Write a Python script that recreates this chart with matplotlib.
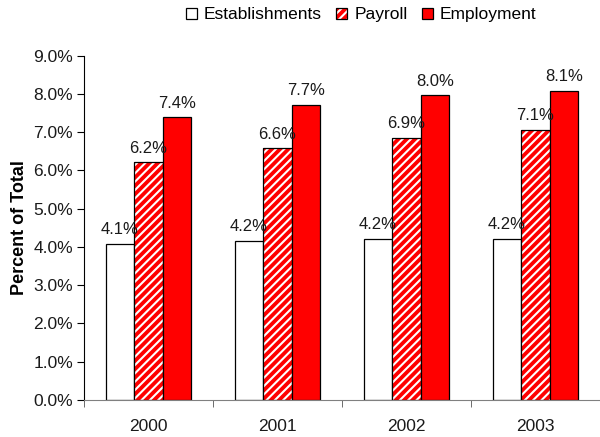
import matplotlib
matplotlib.use("Agg")
import matplotlib.pyplot as plt
from matplotlib.patches import Patch
import numpy as np

years = ["2000", "2001", "2002", "2003"]
establishments = [4.08, 4.16, 4.21, 4.22]
payroll = [6.22, 6.58, 6.86, 7.06]
employment = [7.39, 7.72, 7.96, 8.08]
yticks = [0, 1, 2, 3, 4, 5, 6, 7, 8, 9]

plt.rcParams['font.family'] = ['Liberation Sans', 'DejaVu Sans']
plt.rcParams['hatch.linewidth'] = 1.5

RED = '#ff0000'
HATCH = '////'

fig = plt.figure(figsize=(6, 4.37), dpi=100)
ax = fig.add_axes([0.14, 0.0847, 0.86, 0.7878])

x = np.arange(len(years))
w = 0.222

ax.bar(x - w, establishments, w, facecolor='white', edgecolor='black', linewidth=0.9)
ax.bar(x, payroll, w, facecolor=RED, edgecolor='white', hatch=HATCH, linewidth=0)
ax.bar(x, payroll, w, facecolor='none', edgecolor='black', linewidth=0.9)
ax.bar(x + w, employment, w, facecolor=RED, edgecolor='black', linewidth=0.9)

for xs, vals in [(x - w, establishments), (x, payroll), (x + w, employment)]:
    for xi, v in zip(xs, vals):
        ax.text(xi, v + 0.17, f"{v:.1f}%", ha='center', va='bottom', fontsize=12, color='#1a1a1a')

ax.set_xlim(-0.5, 3.5)
ax.set_ylim(0, 9)
ax.set_yticks(yticks)
ax.set_yticklabels([f"{t:.1f}%" for t in yticks], fontsize=12.5, color='#1a1a1a')
ax.set_xticks(x)
ax.set_xticklabels(years, fontsize=12.5, color='#1a1a1a')
ax.tick_params(axis='x', which='major', length=0, pad=14)
ax.set_xticks(np.arange(-0.5, 4, 1), minor=True)
ax.tick_params(axis='x', which='minor', length=5, color='#555555')
ax.tick_params(axis='y', length=5, color='black', pad=3)

ax.spines['top'].set_visible(False)
ax.spines['right'].set_visible(False)
ax.spines['bottom'].set_color('#808080')
ax.spines['left'].set_color('black')
ax.set_ylabel('Percent of Total', fontsize=13, fontweight='bold', labelpad=4)

h_est = Patch(facecolor='white', edgecolor='black', linewidth=0.9)
h_pay = (Patch(facecolor=RED, edgecolor='white', hatch=HATCH, linewidth=0),
         Patch(facecolor='none', edgecolor='black', linewidth=0.9))
h_emp = Patch(facecolor=RED, edgecolor='black', linewidth=0.9)
fig.legend([h_est, h_pay, h_emp], ['Establishments', 'Payroll', 'Employment'], loc='center',
           bbox_to_anchor=(0.602, 0.966), ncol=3, frameon=False, fontsize=12.5,
           handlelength=0.63, handleheight=0.63, handletextpad=0.4, columnspacing=0.85,
           borderpad=0)

fig.savefig('out.png', dpi=100)
